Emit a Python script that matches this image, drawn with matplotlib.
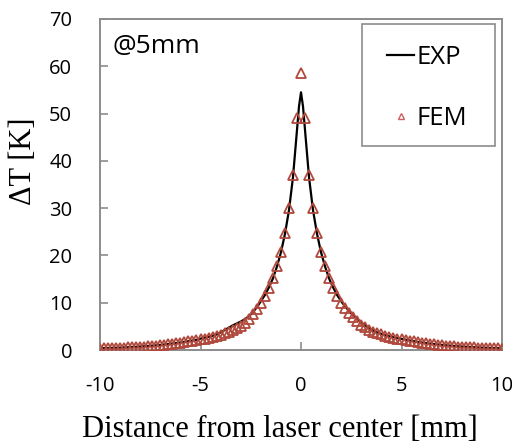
import numpy as np
import matplotlib
matplotlib.use("Agg")
import matplotlib.pyplot as plt
from matplotlib.lines import Line2D
from matplotlib.patches import Rectangle

# FEM: sampled every 0.2 mm from -10 to 10
fem_x = np.round(np.arange(-10.0, 10.01, 0.2), 1)
fem_left = [0.30, 0.33, 0.36, 0.39, 0.42, 0.45, 0.49, 0.53, 0.58, 0.63,
            0.68, 0.74, 0.80, 0.86, 0.93, 1.00, 1.10, 1.20, 1.30, 1.40,
            1.50, 1.65, 1.80, 1.95, 2.10, 2.25, 2.40, 2.60, 2.80, 3.00,
            3.20, 3.50, 3.80, 4.20, 4.60, 5.10, 5.80, 6.60, 7.60, 8.70,
            10.0, 11.5, 13.2, 15.2, 17.8, 20.8, 24.8, 30.0, 37.0, 49.0]
fem_peak = [58.5]
fem_right = [49.0, 37.0, 30.0, 24.8, 20.8, 17.8, 15.2, 13.2, 11.5, 10.0,
             8.90, 7.90, 7.00, 6.20, 5.30, 4.80, 4.30, 3.90, 3.60, 3.30,
             3.00, 2.80, 2.60, 2.40, 2.25, 2.10, 1.95, 1.80, 1.65, 1.50,
             1.40, 1.30, 1.20, 1.10, 1.00, 0.93, 0.86, 0.80, 0.74, 0.68,
             0.63, 0.58, 0.53, 0.49, 0.45, 0.42, 0.39, 0.36, 0.33, 0.30]
fem_y = fem_left + fem_peak + fem_right

# EXP: same 0.2 mm grid plus extra points around the peak
exp_x = [-10.0, -9.8, -9.6, -9.4, -9.2, -9.0, -8.8, -8.6, -8.4, -8.2,
         -8.0, -7.8, -7.6, -7.4, -7.2, -7.0, -6.8, -6.6, -6.4, -6.2,
         -6.0, -5.8, -5.6, -5.4, -5.2, -5.0, -4.8, -4.6, -4.4, -4.2,
         -4.0, -3.8, -3.6, -3.4, -3.2, -3.0, -2.8, -2.6, -2.4, -2.2,
         -2.0, -1.8, -1.6, -1.4, -1.2, -1.0, -0.8, -0.6, -0.4, -0.3,
         -0.2, -0.1, 0.0, 0.1, 0.2, 0.3, 0.4, 0.6, 0.8, 1.0,
         1.2, 1.4, 1.6, 1.8, 2.0, 2.2, 2.4, 2.6, 2.8, 3.0,
         3.2, 3.4, 3.6, 3.8, 4.0, 4.2, 4.4, 4.6, 4.8, 5.0,
         5.2, 5.4, 5.6, 5.8, 6.0, 6.2, 6.4, 6.6, 6.8, 7.0,
         7.2, 7.4, 7.6, 7.8, 8.0, 8.2, 8.4, 8.6, 8.8, 9.0,
         9.2, 9.4, 9.6, 9.8, 10.0]
exp_y = [0.35, 0.38, 0.41, 0.44, 0.47, 0.50, 0.54, 0.58, 0.63, 0.68,
         0.73, 0.79, 0.85, 0.92, 0.99, 1.07, 1.16, 1.26, 1.36, 1.47,
         1.58, 1.72, 1.86, 2.00, 2.15, 2.40, 2.60, 2.80, 3.00, 3.30,
         3.70, 4.20, 4.70, 5.20, 5.60, 6.00, 6.50, 7.10, 8.00, 9.00,
         10.3, 11.6, 13.2, 15.1, 17.6, 20.6, 24.5, 29.5, 36.5, 41.5,
         46.5, 51.5, 54.5, 51.5, 46.5, 41.5, 36.5, 29.5, 24.5, 20.6,
         17.6, 15.1, 13.2, 11.6, 10.3, 9.20, 8.20, 7.30, 6.50, 5.80,
         5.20, 4.60, 4.10, 3.70, 3.40, 3.10, 2.90, 2.70, 2.50, 2.35,
         2.18, 2.02, 1.87, 1.72, 1.58, 1.47, 1.36, 1.26, 1.16, 1.07,
         0.99, 0.92, 0.85, 0.79, 0.73, 0.68, 0.63, 0.58, 0.54, 0.50,
         0.47, 0.44, 0.41, 0.38, 0.35]

x_ticks = [-10, -5, 0, 5, 10]
y_ticks = [0, 10, 20, 30, 40, 50, 60, 70]

sans = ["Open Sans", "DejaVu Sans"]
serif = ["Liberation Serif", "DejaVu Serif"]
spine_gray = "#8c8c8c"
fem_red = "#b0483c"

fig = plt.figure(figsize=(5.12, 4.43), dpi=100)
ax = fig.add_axes([100 / 512, 1 - 350 / 443, 402 / 512, 331 / 443])

ax.plot(exp_x, exp_y, "-", color="black", linewidth=1.6, zorder=2)
ax.plot(fem_x, fem_y, "^", markerfacecolor="none", markeredgecolor=fem_red,
        markeredgewidth=1.3, markersize=6.5, linestyle="none", zorder=3)

ax.set_xlim(-10, 10)
ax.set_ylim(0, 70)
ax.set_xticks(x_ticks)
ax.set_yticks(y_ticks)
ax.set_xticklabels([str(t) for t in x_ticks], family=sans, fontsize=14.5)
ax.set_yticklabels([str(t) for t in y_ticks], family=sans, fontsize=14.5)
ax.tick_params(axis="both", direction="in", length=6, width=1.2, color=spine_gray)
ax.tick_params(axis="x", pad=19)
ax.tick_params(axis="y", pad=20)
for s in ax.spines.values():
    s.set_color(spine_gray)
    s.set_linewidth(1.4)

ax.set_xlabel("Distance from laser center [mm]", family=serif, fontsize=22)
ax.xaxis.set_label_coords(0.448, -0.197)
ax.set_ylabel("ΔT [K]", family=serif, fontsize=22)
ax.yaxis.set_label_coords(-0.155, 0.569)

ax.text(0.032, 0.955, "@5mm", transform=ax.transAxes, family=sans, fontsize=19,
        ha="left", va="top")

# legend entries without frame, boxed by a plain rectangle like the original
handles = [
    Line2D([], [], color="black", linewidth=1.6),
    Line2D([], [], marker="^", linestyle="none", markerfacecolor="none",
           markeredgecolor="#d06060", markeredgewidth=1.0, markersize=5),
]
ax.legend(handles, ["EXP", "FEM"], loc="upper left",
          bbox_to_anchor=(0.714, 0.921), prop={"family": sans, "size": 18.5},
          frameon=False, handlelength=1.05, handletextpad=0.1,
          labelspacing=1.4, borderpad=0.0, borderaxespad=0.0)
ax.add_patch(Rectangle((0.652, 0.616), 0.331, 0.369, transform=ax.transAxes,
                       facecolor="none", edgecolor=spine_gray, linewidth=1.2,
                       zorder=4))

fig.savefig("out.png", dpi=100)
